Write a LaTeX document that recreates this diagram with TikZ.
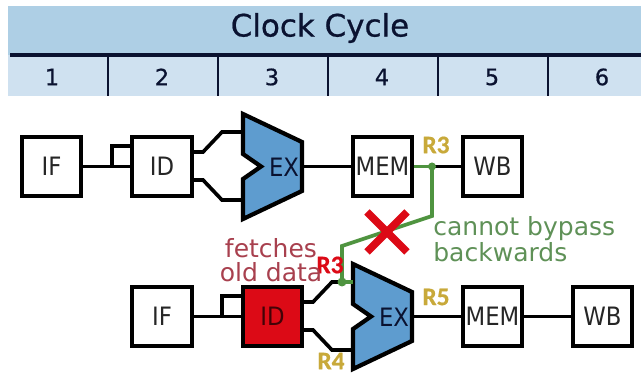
\documentclass[tikz,border=0pt]{standalone}
\usepackage{fontspec}
\setmainfont{DejaVu Sans}
\newfontfamily\regfont[FakeBold=0.6]{Carlito Bold}
\newfontfamily\stagefont[FakeStretch=0.9]{DejaVu Sans}
\newfontfamily\headfont[FakeBold=0.7]{DejaVu Sans}
\usetikzlibrary{arrows}
\definecolor{bandtop}{HTML}{AECFE5}
\definecolor{bandlow}{HTML}{CFE1F0}
\definecolor{inknavy}{HTML}{0A1230}
\definecolor{exblue}{HTML}{5E9CCF}
\definecolor{idred}{HTML}{DC0A16}
\definecolor{regold}{HTML}{C8A93A}
\definecolor{bypgreen}{HTML}{4F9440}
\definecolor{notegreen}{HTML}{5F9157}
\definecolor{notered}{HTML}{A8404E}
\tikzset{
  stagebox/.style={draw=black, fill=white, line width=2.9pt, minimum size=1.49cm, inner sep=0pt, font=\stagefont\fontsize{18}{18}\selectfont, text=black!85},
  exshape/.style={draw=black, fill=exblue, line width=3pt, line join=miter},
  wire/.style={draw=black, line width=2.6pt},
  bypass/.style={draw=bypgreen, line width=2.6pt},
  cyclenum/.style={font=\headfont\fontsize{16}{16}\selectfont, text=inknavy, inner sep=0pt},
  reglabel/.style={font=\regfont\fontsize{18}{18}\selectfont, text=regold, inner sep=0pt},
  notelabel/.style={font=\fontsize{17.8}{17.8}\selectfont, inner sep=0pt}
}
\begin{document}
\begin{tikzpicture}[x=.025cm, y=-.025cm]
      \useasboundingbox (0, 0) rectangle (641, 373);
      \fill[bandtop] (8, 6) rectangle (641, 55);
      \fill[bandlow] (8, 55) rectangle (641, 96);
      \draw[inknavy, line width=2.2pt] (10, 55) -- (641, 55);
      \draw[inknavy, line width=2pt] (108, 55) -- (108, 96);
      \draw[inknavy, line width=2pt] (218, 55) -- (218, 96);
      \draw[inknavy, line width=2pt] (328, 55) -- (328, 96);
      \draw[inknavy, line width=2pt] (438, 55) -- (438, 96);
      \draw[inknavy, line width=2pt] (548, 55) -- (548, 96);
      \node[text=inknavy, inner sep=0pt, font=\headfont\fontsize{22}{22}\selectfont] (title) at (320, 28) {Clock Cycle};
      \node[cyclenum] (num1) at (52, 77) {1};
      \node[cyclenum] (num2) at (162, 77) {2};
      \node[cyclenum] (num3) at (272, 77) {3};
      \node[cyclenum] (num4) at (382, 77) {4};
      \node[cyclenum] (num5) at (492, 77) {5};
      \node[cyclenum] (num6) at (602, 77) {6};

      \node[stagebox] (ifa) at (51.5, 166.5) {IF};
      \node[stagebox] (ida) at (162, 166.5) {ID};
      \node[stagebox] (mema) at (382.5, 166.5) {MEM};
      \node[stagebox] (wba) at (492.5, 166.5) {WB};
      \coordinate (ifasplit) at (112, 166.5);
      \coordinate (idatap) at (132.5, 146);
      \coordinate (idaup) at (191.5, 152);
      \coordinate (idadown) at (191.5, 180);
      \coordinate (exaup) at (243, 132);
      \coordinate (exadown) at (243, 200);
      \coordinate (exaout) at (303, 166.5);
      \coordinate (memasplit) at (432, 166.5);
      \draw[wire] (ifa.east) -- (ida.west);
      \draw[wire] (ifasplit) |- (idatap);
      \draw[wire] (idaup) -- (203, 152) -- (222, 132) -- (exaup);
      \draw[wire] (idadown) -- (203, 180) -- (222, 200) -- (exadown);
      \draw[exshape] (243, 114) -- (302, 142) -- (302, 191) -- (243, 219) -- (243, 179) -- (261, 166.5) -- (243, 154) -- cycle;
      \node[inner sep=0pt, font=\stagefont\fontsize{18}{18}\selectfont, text=inknavy] (exa) at (284, 167) {EX};
      \draw[wire] (exaout) -- (mema.west);
      \draw[wire] (memasplit) -- (wba.west);

      \node[stagebox] (ifb) at (162, 316.5) {IF};
      \node[stagebox, fill=idred] (idb) at (272.5, 316.5) {\textcolor{black!70!idred}{ID}};
      \node[stagebox] (memb) at (492.5, 316.5) {MEM};
      \node[stagebox] (wbb) at (602.5, 316.5) {WB};
      \coordinate (ifbsplit) at (222, 316.5);
      \coordinate (idbtap) at (243, 296);
      \coordinate (idbup) at (302, 302);
      \coordinate (idbdown) at (302, 330);
      \coordinate (exbup) at (353, 282);
      \coordinate (exbdown) at (353, 350);
      \coordinate (exbout) at (413, 316.5);
      \coordinate (bypfork) at (342, 282);
      \draw[wire] (ifb.east) -- (idb.west);
      \draw[wire] (ifbsplit) |- (idbtap);
      \draw[wire] (idbup) -- (313, 302) -- (332, 282) -- (bypfork);
      \draw[wire] (idbdown) -- (313, 330) -- (332, 350) -- (exbdown);
      \draw[exshape] (353, 264) -- (412, 292) -- (412, 341) -- (353, 369) -- (353, 329) -- (371, 316.5) -- (353, 304) -- cycle;
      \node[inner sep=0pt, font=\stagefont\fontsize{18}{18}\selectfont, text=inknavy] (exb) at (394, 317) {EX};
      \draw[wire] (exbout) -- (memb.west);
      \draw[wire] (memb.east) -- (wbb.west);

      \draw[bypass] (mema.east) -- (memasplit);
      \draw[bypass] (memasplit) -- (432, 216) -- (342, 246) -- (bypfork);
      \draw[bypass] (bypfork) -- (exbup);
      \fill[bypgreen] (memasplit) circle (4);
      \fill[bypgreen] (bypfork) circle (4.5);
      \draw[idred, line width=5.4pt] (367, 212) -- (407, 252);
      \draw[idred, line width=5.4pt] (407, 212) -- (367, 252);

      \node[reglabel] (rega) at (436, 145) {R3};
      \node[reglabel, text=idred] (regb) at (330, 265) {R3};
      \node[reglabel] (regc) at (436, 297) {R5};
      \node[reglabel] (regd) at (331, 361) {R4};
      \node[notelabel, text=notered] (fetch) at (271, 248) {fetches};
      \node[notelabel, text=notered] (olddata) at (271, 272) {old data};
      \node[notelabel, text=notegreen, anchor=west] (nobyp) at (433, 229) {cannot bypass};
      \node[notelabel, text=notegreen, anchor=west] (nobypb) at (433, 252) {backwards};
    \end{tikzpicture}
\end{document}
